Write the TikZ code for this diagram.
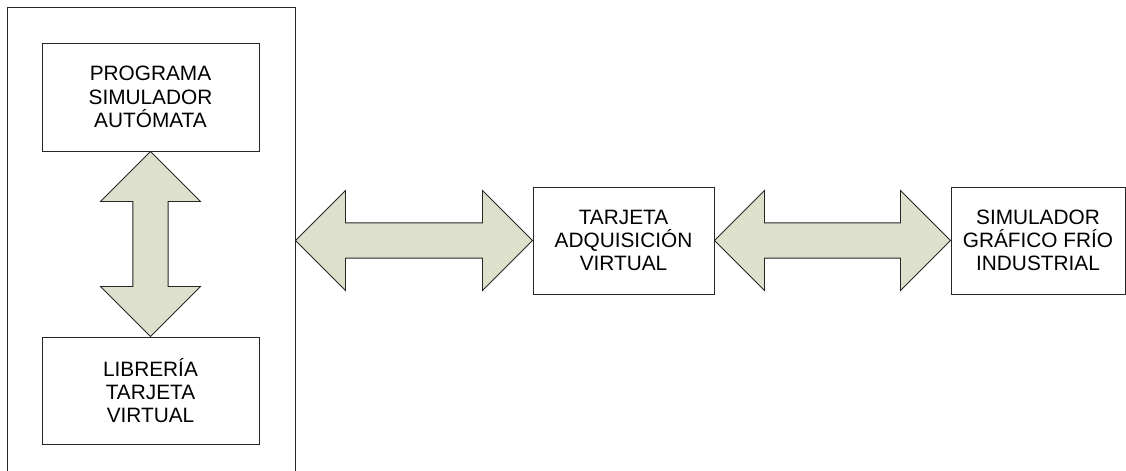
\documentclass[tikz,border=0pt]{standalone}
\usepackage{fontspec}
\setmainfont{Liberation Sans}
\usetikzlibrary{calc}
\definecolor{verdegris}{RGB}{221,225,204}

\begin{document}
\begin{tikzpicture}
\tikzset{caja/.style={draw=black!85, line width=0.7pt, align=center, font=\fontsize{14.8}{16.6}\selectfont},
  flecha/.style={draw=black!85, line width=0.6pt, fill=verdegris, line join=miter}}
\clip (0, 0) rectangle (28.15, 11.75);
\node[draw=black!85, line width=0.7pt, minimum width=7.2cm, minimum height=12.5cm] (marco) at (3.775, 5.325) {};
\node[caja, minimum width=5.425cm, minimum height=2.7cm] (prog) at (3.7625, 9.325) {PROGRAMA\\SIMULADOR\\AUTÓMATA};
\node[caja, minimum width=5.425cm, minimum height=2.675cm] (lib) at (3.7625, 1.9875) {LIBRERÍA\\TARJETA\\VIRTUAL};
\node[caja, minimum width=4.525cm, minimum height=2.675cm] (tarj) at (15.5875, 5.7375) {TARJETA\\ADQUISICIÓN\\VIRTUAL};
\node[caja, minimum width=4.35cm, minimum height=2.675cm] (graf) at (25.95, 5.7375) {SIMULADOR\\GRÁFICO FRÍO\\INDUSTRIAL};
% flecha vertical
\draw[flecha] (prog.south) -- ++(1.25, -1.25) -- ++(-0.81, 0) -- ($(lib.north)+(0.44, 1.25)$) -- ++(0.81, 0) -- (lib.north)
  -- ++(-1.25, 1.25) -- ++(0.81, 0) -- ($(prog.south)+(-0.44, -1.25)$) -- ++(-0.81, 0) -- cycle;
% flechas horizontales
\draw[flecha] (marco.east |- tarj.west) -- ++(1.25, 1.25) -- ++(0, -0.81) -- ($(tarj.west)+(-1.25, 0.44)$) -- ++(0, 0.81) -- (tarj.west)
  -- ++(-1.25, -1.25) -- ++(0, 0.81) -- ($(marco.east |- tarj.west)+(1.25, -0.44)$) -- ++(0, -0.81) -- cycle;
\draw[flecha] (tarj.east) -- ++(1.25, 1.25) -- ++(0, -0.81) -- ($(graf.west)+(-1.25, 0.44)$) -- ++(0, 0.81) -- (graf.west)
  -- ++(-1.25, -1.25) -- ++(0, 0.81) -- ($(tarj.east)+(1.25, -0.44)$) -- ++(0, -0.81) -- cycle;
\end{tikzpicture}
\end{document}
